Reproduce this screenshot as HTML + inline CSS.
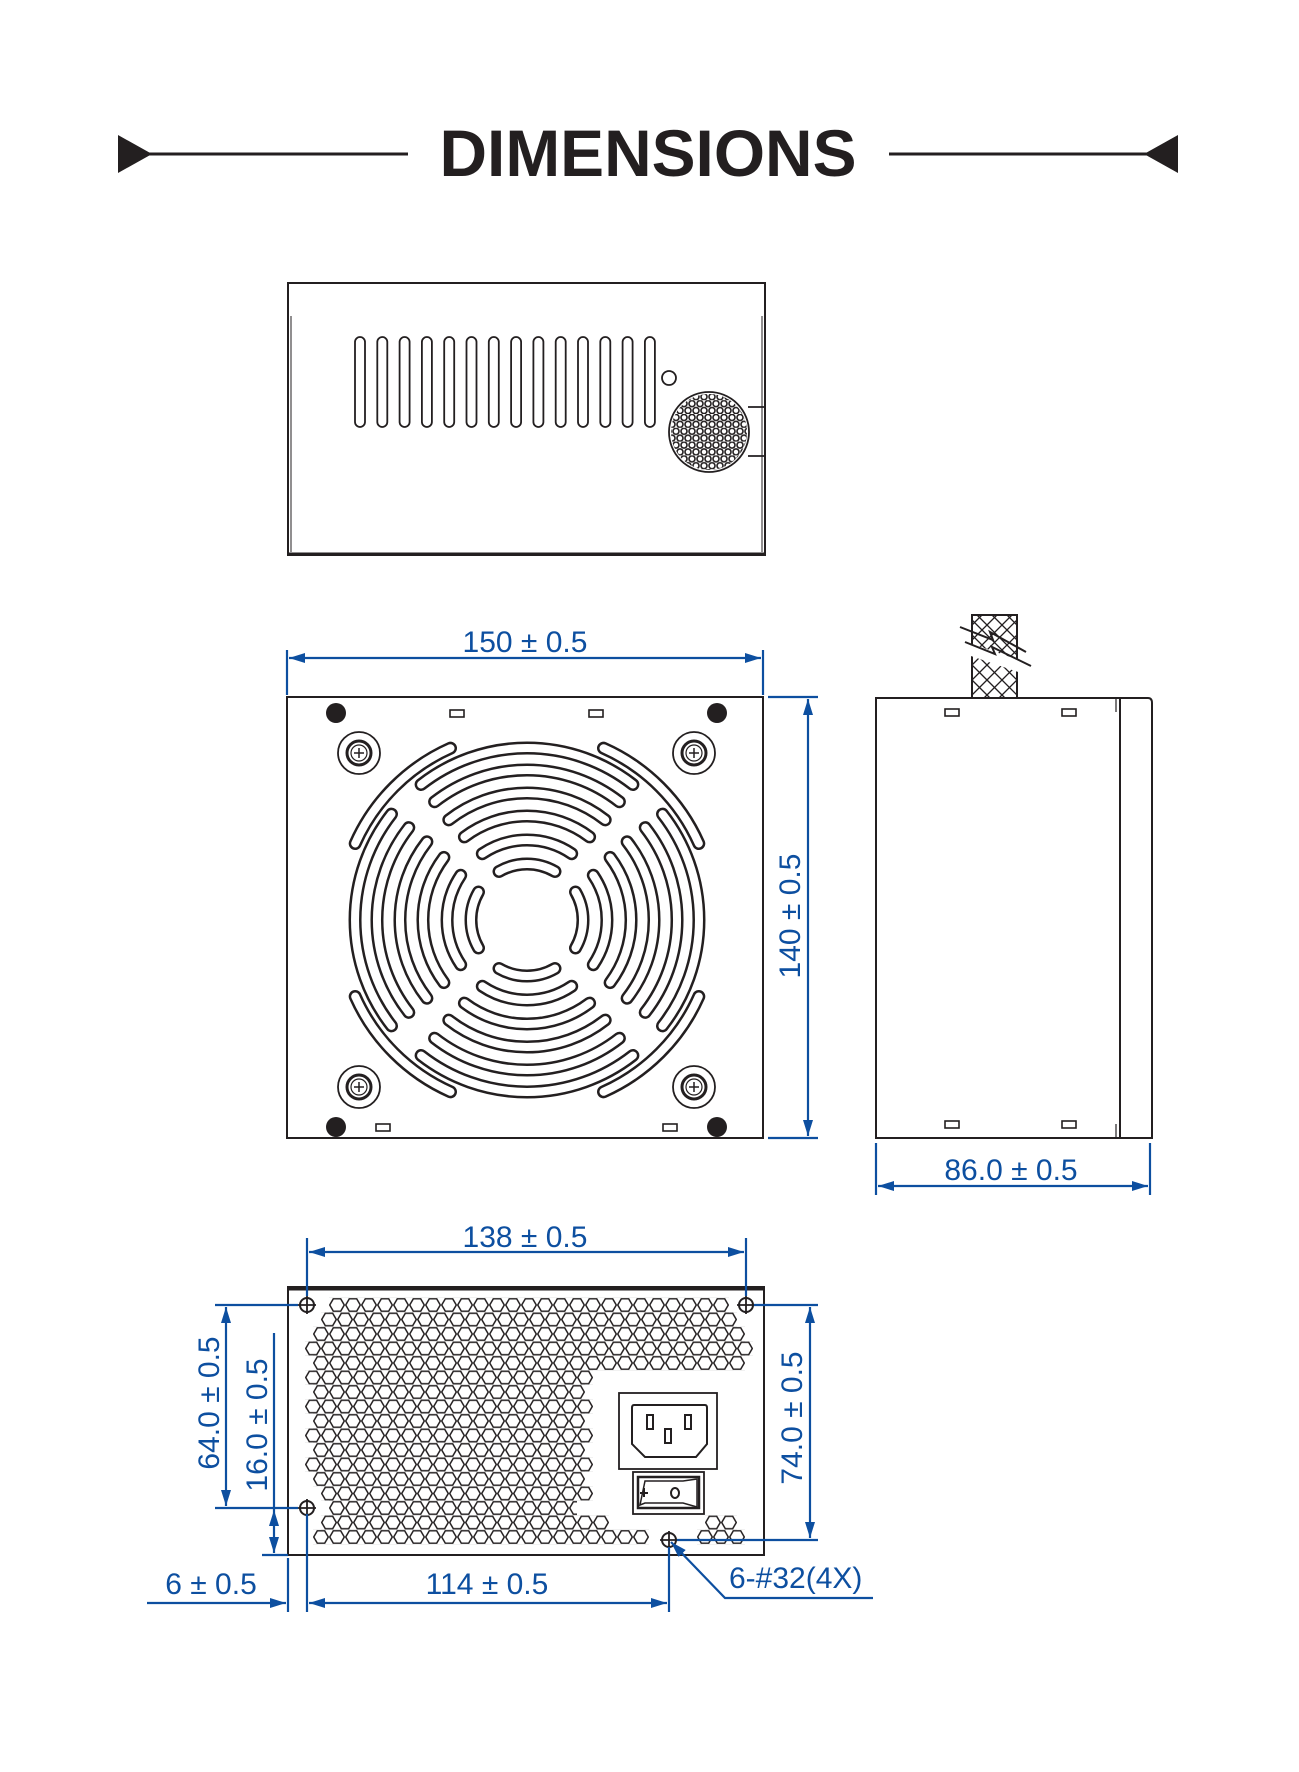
<!DOCTYPE html>
<html><head><meta charset="utf-8"><style>
html,body{margin:0;padding:0;background:#fff;}
svg{display:block;}
.k{fill:none;stroke:#231f20;stroke-width:2;}
.b{stroke:#0d4fa0;stroke-width:2.2;fill:none;}
.t{font-family:"Liberation Sans",sans-serif;font-size:30px;fill:#0d4fa0;}
</style></head><body>
<svg width="1299" height="1772" viewBox="0 0 1299 1772" xmlns="http://www.w3.org/2000/svg">
<defs>
<marker id="ar" viewBox="0 0 16 10" refX="16" refY="5" markerWidth="16" markerHeight="10" markerUnits="userSpaceOnUse" orient="auto-start-reverse">
<path d="M0,0 L16,5 L0,10 Z" fill="#0d4fa0"/></marker>
<pattern id="hex" patternUnits="userSpaceOnUse" x="329" y="1297.75" width="16" height="29">
<g fill="none" stroke="#231f20" stroke-width="1.5">
<polygon points="15.3,7.25 11.65,13.5 4.35,13.5 0.7,7.25 4.35,1 11.65,1"/>
<polygon points="7.3,21.75 3.65,28 -3.65,28 -7.3,21.75 -3.65,15.5 3.65,15.5"/>
<polygon points="23.3,21.75 19.65,28 12.35,28 8.7,21.75 12.35,15.5 19.65,15.5"/>
</g></pattern>
<pattern id="dots" patternUnits="userSpaceOnUse" x="0" y="0" width="8" height="13.8">
<g fill="none" stroke="#231f20" stroke-width="1.6">
<circle cx="4" cy="3.45" r="3"/><circle cx="0" cy="10.35" r="3"/><circle cx="8" cy="10.35" r="3"/>
</g></pattern>
<clipPath id="dc"><circle cx="709" cy="432" r="38"/></clipPath>
<clipPath id="hc">
<rect x="329" y="1297.75" width="400" height="14.5"/>
<rect x="321" y="1312.25" width="416" height="14.5"/>
<rect x="313" y="1326.75" width="432" height="14.5"/>
<rect x="305" y="1341.25" width="448" height="14.5"/>
<rect x="313" y="1355.75" width="432" height="14.5"/>
<rect x="305" y="1370.25" width="288" height="14.5"/>
<rect x="313" y="1384.75" width="272" height="14.5"/>
<rect x="305" y="1399.25" width="288" height="14.5"/>
<rect x="313" y="1413.75" width="272" height="14.5"/>
<rect x="305" y="1428.25" width="288" height="14.5"/>
<rect x="313" y="1442.75" width="272" height="14.5"/>
<rect x="305" y="1457.25" width="288" height="14.5"/>
<rect x="313" y="1471.75" width="272" height="14.5"/>
<rect x="321" y="1486.25" width="272" height="14.5"/>
<rect x="329" y="1500.75" width="248" height="14.5"/>
<rect x="321" y="1515.25" width="288" height="14.5"/>
<rect x="705" y="1515.25" width="32" height="14.5"/>
<rect x="313" y="1529.75" width="336" height="14.5"/>
<rect x="697" y="1529.75" width="48" height="14.5"/>
</clipPath>
<g id="arcs">
<path d="M421.1 784.5 A172 172 0 0 1 632.9 784.5"/>
<path d="M434.6 801.8 A150 150 0 0 1 619.4 801.8"/>
<path d="M448.8 819.9 A127 127 0 0 1 605.2 819.9"/>
<path d="M464.4 836.9 A104 104 0 0 1 589.6 836.9"/>
<path d="M482.3 853.7 A80 80 0 0 1 571.7 853.7"/>
<path d="M499 871.5 A56 56 0 0 1 555 871.5"/>
<path d="M355.2 843.5 A188 188 0 0 1 450.5 748.2"/>
</g>
<g id="mount">
<circle r="21" fill="none" stroke="#231f20" stroke-width="1.8"/>
<circle r="12" fill="none" stroke="#231f20" stroke-width="3"/>
<circle r="8" fill="none" stroke="#231f20" stroke-width="1.2"/>
<path d="M-5 0H5M0 -5V5" stroke="#231f20" stroke-width="1.5"/>
</g>
<g id="scr">
<circle r="7" fill="none" stroke="#231f20" stroke-width="2"/>
<path d="M-9 0H9M0 -9V9" stroke="#231f20" stroke-width="1.8"/>
</g>
</defs>

<!-- Title -->
<text x="648" y="176" text-anchor="middle" font-family="Liberation Sans,sans-serif" font-weight="bold" font-size="66" fill="#231f20" textLength="417" lengthAdjust="spacingAndGlyphs">DIMENSIONS</text>
<line x1="130" y1="154" x2="408" y2="154" stroke="#231f20" stroke-width="3"/>
<polygon points="118,135 152,154 118,173" fill="#231f20"/>
<line x1="889" y1="154" x2="1165" y2="154" stroke="#231f20" stroke-width="3"/>
<polygon points="1178,135 1144,154 1178,173" fill="#231f20"/>

<!-- Top view -->
<rect x="288" y="283" width="477" height="272" class="k"/>
<line x1="288" y1="554" x2="765" y2="554" stroke="#231f20" stroke-width="3"/>
<line x1="291" y1="316" x2="291" y2="552" stroke="#231f20" stroke-width="1"/>
<line x1="762" y1="316" x2="762" y2="552" stroke="#231f20" stroke-width="1"/>
<g fill="none" stroke="#231f20" stroke-width="1.8">
<rect x="355" y="337" width="10" height="90" rx="5"/>
<rect x="377.3" y="337" width="10" height="90" rx="5"/>
<rect x="399.6" y="337" width="10" height="90" rx="5"/>
<rect x="421.9" y="337" width="10" height="90" rx="5"/>
<rect x="444.2" y="337" width="10" height="90" rx="5"/>
<rect x="466.5" y="337" width="10" height="90" rx="5"/>
<rect x="488.8" y="337" width="10" height="90" rx="5"/>
<rect x="511.1" y="337" width="10" height="90" rx="5"/>
<rect x="533.4" y="337" width="10" height="90" rx="5"/>
<rect x="555.7" y="337" width="10" height="90" rx="5"/>
<rect x="578" y="337" width="10" height="90" rx="5"/>
<rect x="600.3" y="337" width="10" height="90" rx="5"/>
<rect x="622.6" y="337" width="10" height="90" rx="5"/>
<rect x="644.9" y="337" width="10" height="90" rx="5"/>
<circle cx="669" cy="378" r="7"/>
<circle cx="709" cy="432" r="40"/>
<path d="M748 407H764M748 456H764"/>
</g>
<rect x="669" y="392" width="80" height="80" fill="url(#dots)" clip-path="url(#dc)"/>

<!-- Front view -->
<rect x="287" y="697" width="476" height="441" class="k"/>
<g fill="none" stroke="#231f20" stroke-width="13" stroke-linecap="round">
<use href="#arcs"/>
<use href="#arcs" transform="rotate(90 527 920)"/>
<use href="#arcs" transform="rotate(180 527 920)"/>
<use href="#arcs" transform="rotate(270 527 920)"/>
</g>
<g fill="none" stroke="#fff" stroke-width="8" stroke-linecap="round">
<use href="#arcs"/>
<use href="#arcs" transform="rotate(90 527 920)"/>
<use href="#arcs" transform="rotate(180 527 920)"/>
<use href="#arcs" transform="rotate(270 527 920)"/>
</g>
<g fill="#231f20">
<circle cx="336" cy="713" r="10"/><circle cx="717" cy="713" r="10"/>
<circle cx="336" cy="1127" r="10"/><circle cx="717" cy="1127" r="10"/>
</g>
<use href="#mount" transform="translate(359 753)"/>
<use href="#mount" transform="translate(694 753)"/>
<use href="#mount" transform="translate(359 1087)"/>
<use href="#mount" transform="translate(694 1087)"/>
<g fill="none" stroke="#231f20" stroke-width="1.6">
<rect x="450" y="710" width="14" height="7"/><rect x="589" y="710" width="14" height="7"/>
<rect x="376" y="1124" width="14" height="7"/><rect x="663" y="1124" width="14" height="7"/>
</g>

<!-- 150 dim -->
<line x1="287" y1="650" x2="287" y2="695" class="b"/>
<line x1="763" y1="650" x2="763" y2="695" class="b"/>
<line x1="289" y1="658" x2="761" y2="658" class="b" marker-start="url(#ar)" marker-end="url(#ar)"/>
<text x="525" y="652" text-anchor="middle" class="t">150 ± 0.5</text>
<!-- 140 dim -->
<line x1="768" y1="697" x2="818" y2="697" class="b"/>
<line x1="768" y1="1138" x2="818" y2="1138" class="b"/>
<line x1="808" y1="699" x2="808" y2="1136" class="b" marker-start="url(#ar)" marker-end="url(#ar)"/>
<text transform="translate(800 916) rotate(-90)" text-anchor="middle" class="t">140 ± 0.5</text>

<!-- Side view -->
<rect x="972" y="615" width="45" height="83" fill="none" stroke="#231f20" stroke-width="2"/>
<g stroke="#231f20" stroke-width="1.3">
<path d="M972 620L1017 665M972 635L1017 680M972 650L1017 695M972 665L1005 698M972 680L990 698M977 615L1017 655M992 615L1017 640M1007 615L1017 625
M1017 620L972 665M1017 635L972 680M1017 650L972 695M1017 665L984 698M1017 680L999 698M1012 615L972 655M997 615L972 640M982 615L972 625"/>
</g>
<polygon points="960,640 1025,662 1030,676 965,654" fill="#fff"/>
<path d="M960 627L993 640L990 632L1026 652M965 642L995 654L992 647L1031 666" fill="none" stroke="#231f20" stroke-width="2"/>
<path d="M876 698H1148Q1152 698 1152 703V1138H876Z" class="k"/>
<line x1="1120" y1="698" x2="1120" y2="1138" stroke="#231f20" stroke-width="2"/>
<line x1="1116" y1="698" x2="1116" y2="712" stroke="#231f20" stroke-width="1.2"/>
<line x1="1116" y1="1124" x2="1116" y2="1138" stroke="#231f20" stroke-width="1.2"/>
<g fill="none" stroke="#231f20" stroke-width="1.6">
<rect x="945" y="709" width="14" height="7"/><rect x="1062" y="709" width="14" height="7"/>
<rect x="945" y="1121" width="14" height="7"/><rect x="1062" y="1121" width="14" height="7"/>
</g>
<!-- 86 dim -->
<line x1="876" y1="1143" x2="876" y2="1195" class="b"/>
<line x1="1150" y1="1143" x2="1150" y2="1195" class="b"/>
<line x1="878" y1="1186" x2="1148" y2="1186" class="b" marker-start="url(#ar)" marker-end="url(#ar)"/>
<text x="1011" y="1180" text-anchor="middle" class="t">86.0 ± 0.5</text>

<!-- Back view -->
<rect x="288" y="1287" width="476" height="268" class="k"/>
<line x1="288" y1="1289" x2="764" y2="1289" stroke="#231f20" stroke-width="3"/>
<rect x="288" y="1280" width="476" height="290" fill="url(#hex)" clip-path="url(#hc)"/>
<rect x="619" y="1393" width="98" height="76" fill="none" stroke="#231f20" stroke-width="1.8"/>
<path d="M634 1405H705Q707 1405 707 1408V1444L696 1457H645L632 1444V1408Q632 1405 634 1405Z" fill="none" stroke="#231f20" stroke-width="2"/>
<g fill="#231f20">
<rect x="646" y="1414" width="8" height="16"/><rect x="684" y="1414" width="8" height="16"/><rect x="664" y="1428" width="8" height="16"/>
</g>
<g fill="#fff"><rect x="648" y="1416" width="4" height="12"/><rect x="686" y="1416" width="4" height="12"/><rect x="666" y="1430" width="4" height="12"/></g>
<rect x="633" y="1472" width="71" height="42" fill="none" stroke="#231f20" stroke-width="1.8"/>
<rect x="638" y="1477" width="61" height="31" fill="none" stroke="#231f20" stroke-width="2.5"/>
<path d="M640 1505L645 1481H683L697 1479V1507L683 1503H645Z" fill="none" stroke="#231f20" stroke-width="1.5"/>
<path d="M644 1488V1497M640 1493H648" stroke="#231f20" stroke-width="2"/>
<ellipse cx="675" cy="1493" rx="4" ry="5" fill="none" stroke="#231f20" stroke-width="2"/>
<use href="#scr" transform="translate(307 1305)"/>
<use href="#scr" transform="translate(746 1305)"/>
<use href="#scr" transform="translate(307 1508)"/>
<use href="#scr" transform="translate(669 1540)"/>

<!-- 138 dim -->
<line x1="307" y1="1238" x2="307" y2="1296" class="b"/>
<line x1="746" y1="1238" x2="746" y2="1296" class="b"/>
<line x1="309" y1="1252" x2="744" y2="1252" class="b" marker-start="url(#ar)" marker-end="url(#ar)"/>
<text x="525" y="1247" text-anchor="middle" class="t">138 ± 0.5</text>
<!-- 74 dim -->
<line x1="754" y1="1305" x2="818" y2="1305" class="b"/>
<line x1="677" y1="1540" x2="818" y2="1540" class="b"/>
<line x1="810" y1="1307" x2="810" y2="1538" class="b" marker-start="url(#ar)" marker-end="url(#ar)"/>
<text transform="translate(802 1418) rotate(-90)" text-anchor="middle" class="t">74.0 ± 0.5</text>
<!-- 64 dim -->
<line x1="215" y1="1305" x2="298" y2="1305" class="b"/>
<line x1="215" y1="1508" x2="298" y2="1508" class="b"/>
<line x1="226" y1="1307" x2="226" y2="1506" class="b" marker-start="url(#ar)" marker-end="url(#ar)"/>
<text transform="translate(219 1403) rotate(-90)" text-anchor="middle" class="t">64.0 ± 0.5</text>
<!-- 16 dim -->
<line x1="274" y1="1333" x2="274" y2="1510" class="b"/>
<line x1="274" y1="1510" x2="274" y2="1553" class="b" marker-start="url(#ar)" marker-end="url(#ar)"/>
<line x1="262" y1="1555" x2="288" y2="1555" class="b"/>
<text transform="translate(267 1425) rotate(-90)" text-anchor="middle" class="t">16.0 ± 0.5</text>
<!-- 6 dim -->
<line x1="288" y1="1558" x2="288" y2="1612" class="b"/>
<line x1="307" y1="1514" x2="307" y2="1612" class="b"/>
<line x1="147" y1="1603" x2="286" y2="1603" class="b" marker-end="url(#ar)"/>
<text x="211" y="1594" text-anchor="middle" class="t">6 ± 0.5</text>
<!-- 114 dim -->
<line x1="669" y1="1547" x2="669" y2="1612" class="b"/>
<line x1="309" y1="1603" x2="667" y2="1603" class="b" marker-start="url(#ar)" marker-end="url(#ar)"/>
<text x="487" y="1594" text-anchor="middle" class="t">114 ± 0.5</text>
<!-- leader -->
<path d="M873 1598H725L671 1542" class="b" marker-end="url(#ar)"/>
<text x="729" y="1588" class="t">6-#32(4X)</text>
</svg>
</body></html>
